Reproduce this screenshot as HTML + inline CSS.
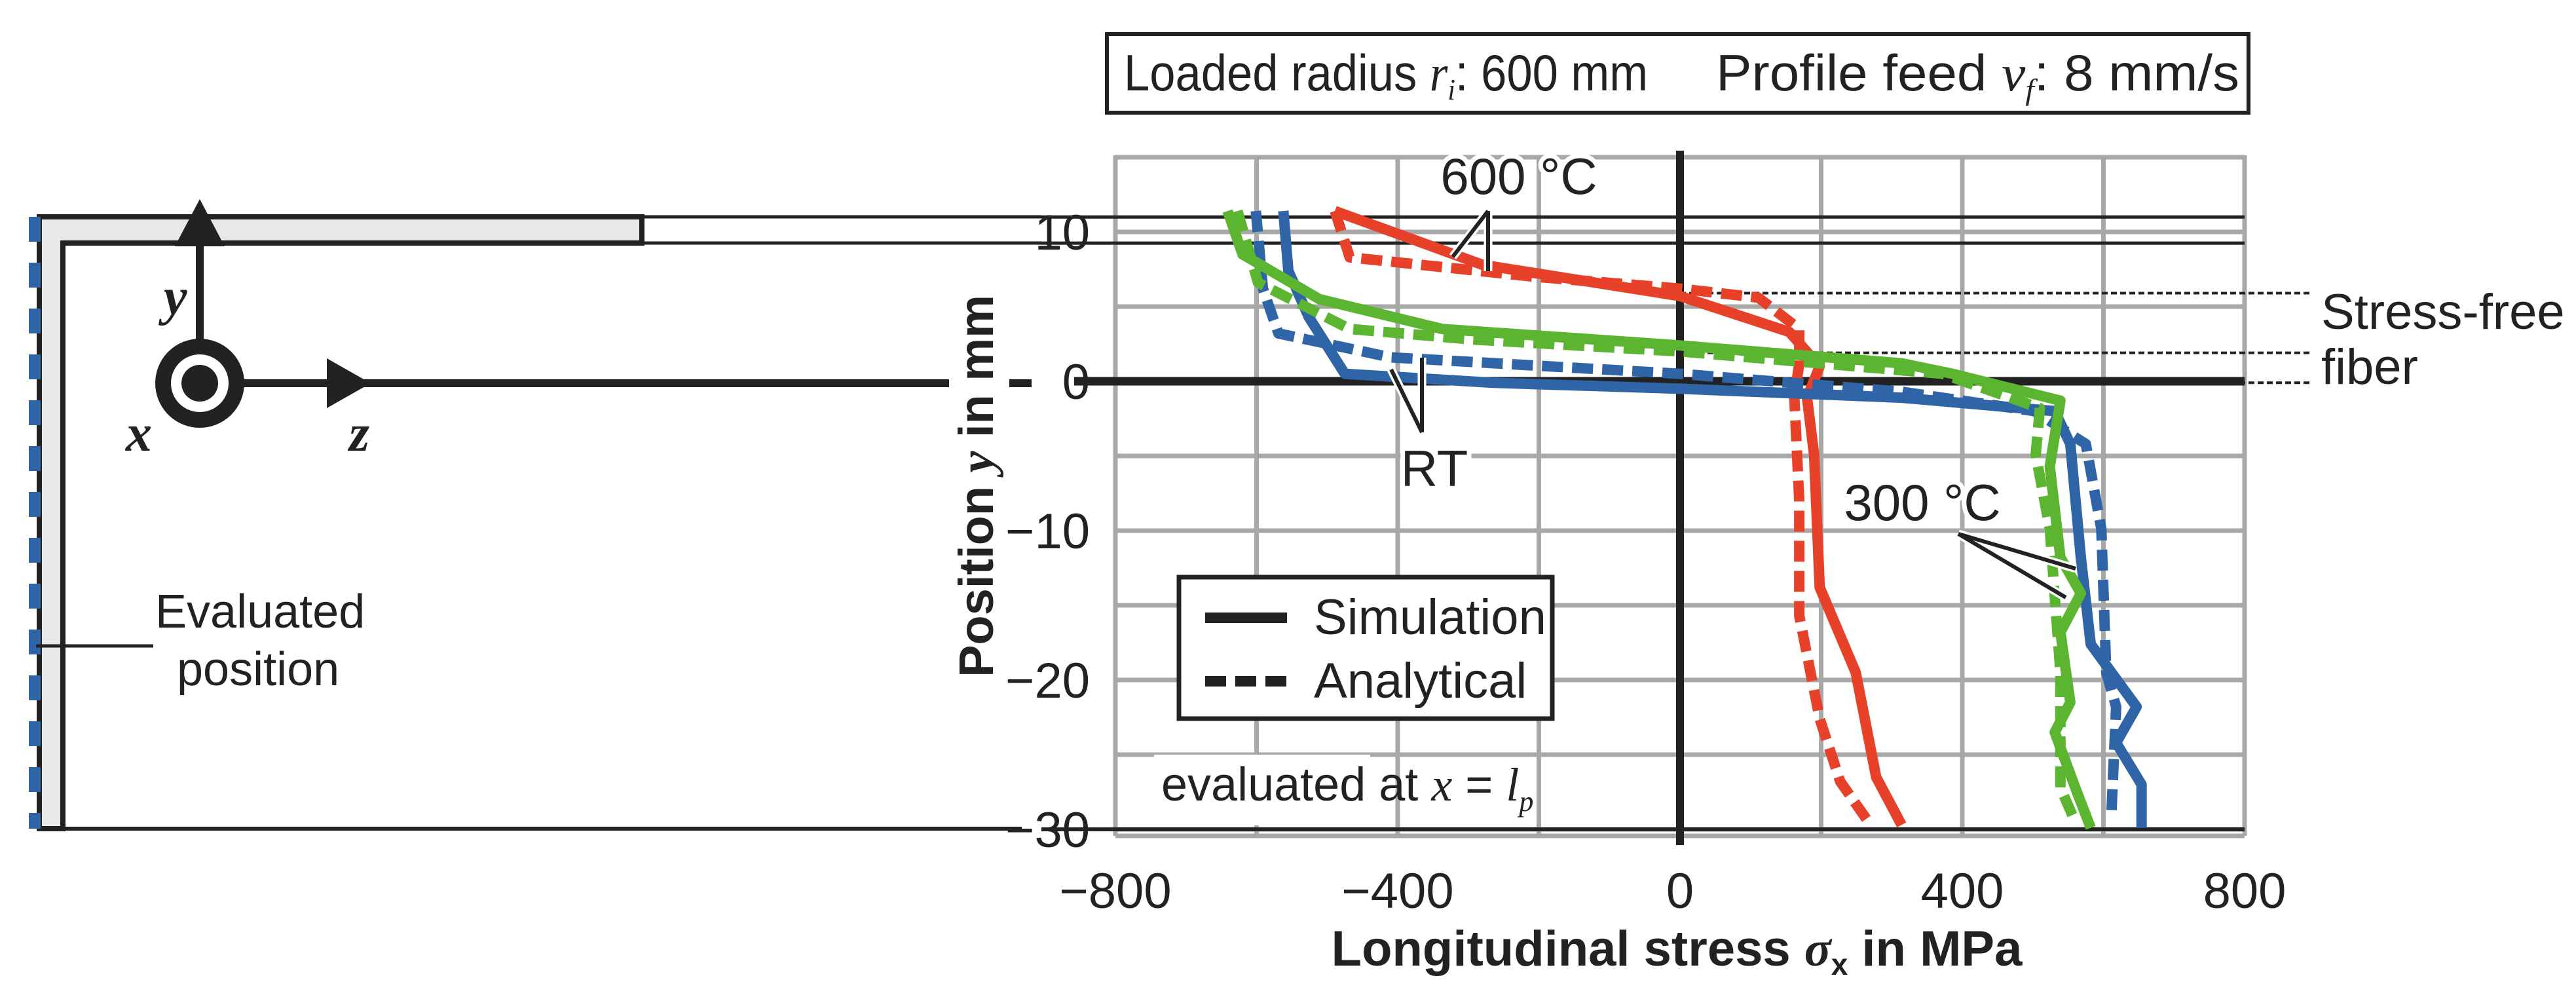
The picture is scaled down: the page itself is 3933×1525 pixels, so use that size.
<!DOCTYPE html>
<html><head><meta charset="utf-8"><style>
html,body{margin:0;padding:0;background:#fff;}
svg{display:block;}
text{font-family:"Liberation Sans Narrow","Liberation Sans",sans-serif;fill:#222;}
.it{font-family:"Liberation Serif",serif;font-style:italic;}
</style></head><body>
<svg id="fig" width="3933" height="1525" viewBox="0 0 3933 1525" xmlns="http://www.w3.org/2000/svg">
<g>
<rect x="1690" y="52" width="1743" height="120" fill="#fff" stroke="#222" stroke-width="6"/>
<text x="1716" y="138" font-size="78" textLength="800" lengthAdjust="spacingAndGlyphs">Loaded radius <tspan class="it">r</tspan><tspan class="it" font-size="46" dy="14">i</tspan><tspan dy="-14">: 600 mm</tspan></text>
<text x="2620" y="138" font-size="78" textLength="799" lengthAdjust="spacingAndGlyphs">Profile feed <tspan class="it">v</tspan><tspan class="it" font-size="46" dy="14">f</tspan><tspan dy="-14">: 8 mm/s</tspan></text>
</g>
<g>
<path d="M60 331 L980 331 L980 371 L96 371 L96 1265 L60 1265 Z" fill="#e8e8e8" stroke="#222" stroke-width="8"/>
<line x1="980" y1="331" x2="1590" y2="331" stroke="#222" stroke-width="5"/>
<line x1="980" y1="371" x2="1590" y2="371" stroke="#222" stroke-width="5"/>
<line x1="96" y1="1265" x2="1560" y2="1265" stroke="#222" stroke-width="6"/>
<line x1="53" y1="331" x2="53" y2="1265" stroke="#2f65a7" stroke-width="18" stroke-dasharray="38 32"/>
<line x1="55" y1="986" x2="234" y2="986" stroke="#222" stroke-width="5"/>
<text x="237" y="958" font-size="72">Evaluated</text>
<text x="270" y="1046" font-size="72">position</text>
<line x1="305" y1="585" x2="305" y2="345" stroke="#222" stroke-width="12"/>
<polygon points="305,304 267,376 343,376" fill="#222"/>
<line x1="305" y1="585" x2="1449" y2="585" stroke="#222" stroke-width="12"/>
<polygon points="566,585 499,547 499,623" fill="#222"/>
<circle cx="305" cy="585" r="56" fill="#fff" stroke="#222" stroke-width="24"/>
<circle cx="305" cy="585" r="28" fill="#222"/>
<text class="it" x="250" y="480" font-size="80" font-weight="bold">y</text>
<text class="it" x="192" y="688" font-size="80" font-weight="bold">x</text>
<text class="it" x="533" y="688" font-size="80" font-weight="bold">z</text>
<line x1="1541" y1="585" x2="1575" y2="585" stroke="#222" stroke-width="12"/>
</g>
<g id="chart"></g>
</svg>
<script>
const xTicks=[-800,-400,0,400,800];
const yTicks=[10,0,-10,-20,-30];
const redSimX=[-489,-280,0,155,198,180,190,198,249,278,314];
const redSimY=[11.4,7.8,5.7,3.3,1.0,-1.1,-4.9,-13.8,-19.5,-26.5,-29.7];
const redAnaX=[-489,-468,-207,0,111,169,169,162,169,169,198,227,264];
const redAnaY=[11.4,8.3,7.0,6.2,5.6,3.5,1.2,-1.1,-8,-15.7,-22.6,-26.8,-29.3];
const blueSimX=[-562,-555,-526,-475,-265,0,314,531,553,568,582,647,618,654,654];
const blueSimY=[11.4,7.4,4.3,0.5,-0.1,-0.5,-1.1,-2.0,-4.2,-11.8,-17.6,-21.8,-24.2,-27,-29.9];
const blueAnaX=[-601,-591,-569,-410,0,314,502,575,597,604,618,611];
const blueAnaY=[11.4,6.2,3.2,1.6,0.5,-0.7,-2.0,-4.2,-9.9,-19.5,-21.8,-29.2];
const greenSimX=[-641,-620,-511,-337,0,314,386,539,524,539,568,539,553,531,560,582];
const greenSimY=[11.4,8.5,5.5,3.5,2.4,1.2,0.5,-1.3,-5.7,-11.8,-14.2,-16.8,-21.5,-23.5,-27.2,-29.9];
const greenAnaX=[-627,-598,-468,-294,0,372,510,504,524,539,539,560];
const greenAnaY=[11.4,6.6,3.5,2.8,2.0,0.5,-1.8,-4.9,-9.9,-19.5,-27.2,-29.5];
const fiberY=[5.9,1.9,-0.1];

const NS='http://www.w3.org/2000/svg';
const g=document.getElementById('chart');
const X0=1703,X1=3427,Y0=582,PY=22.8;
const sx=v=>X0+(v+800)/1600*(X1-X0);
const sy=v=>Y0-v*PY;
function mk(tag,at,parent){const e=document.createElementNS(NS,tag);for(const k in at)e.setAttribute(k,at[k]);(parent||g).appendChild(e);return e;}

for(let v=-800;v<=800;v+=200){const l=mk('line',{x1:sx(v),y1:237,x2:sx(v),y2:1276,stroke:'#a8a8a8','stroke-width':7});

}
for(let v=15;v>=-30;v-=5){const l=mk('line',{x1:X0,y1:sy(v),x2:X1,y2:sy(v),stroke:'#a8a8a8','stroke-width':7});

}
mk('line',{x1:X0,y1:1276,x2:X1,y2:1276,stroke:'#a8a8a8','stroke-width':7});
[[11.0,5],[9.25,5],[-30,6]].forEach(([v,w])=>{const l=mk('line',{x1:1590,y1:sy(v),x2:X1,y2:sy(v),stroke:'#222','stroke-width':w});

});
const zl=mk('line',{x1:1640,y1:sy(0),x2:X1,y2:sy(0),stroke:'#222','stroke-width':13});


fiberY.forEach(v=>{const l=mk('line',{x1:sx(0),y1:sy(v),x2:3530,y2:sy(v),stroke:'#222','stroke-width':4,'stroke-dasharray':'9 5'});

});
const vl=mk('line',{x1:sx(0),y1:230,x2:sx(0),y2:1290,stroke:'#222','stroke-width':12});



xTicks.forEach(v=>{const t=mk('text',{x:sx(v),y:1386,'font-size':76,'text-anchor':'middle'});t.textContent=(v<0?'\u2212':'')+Math.abs(v);

});
yTicks.forEach(v=>{const t=mk('text',{x:1664,y:sy(v)+27,'font-size':76,'text-anchor':'end'});t.textContent=(v<0?'\u2212':'')+Math.abs(v);

});

function series(xs,ys,color,dash,name){const d=xs.map((v,i)=>(i?'L':'M')+sx(v).toFixed(1)+' '+sy(ys[i]).toFixed(1)).join(' ');
const p=mk('path',{d:d,fill:'none',stroke:color,'stroke-width':16,'stroke-linejoin':'round'});
if(dash)p.setAttribute('stroke-dasharray','32 14');

}
series(redAnaX,redAnaY,'#e8412a',true,'series-600c-analytical');
series(redSimX,redSimY,'#e8412a',false,'series-600c-simulation');
series(blueAnaX,blueAnaY,'#2f65a7',true,'series-rt-analytical');
series(blueSimX,blueSimY,'#2f65a7',false,'series-rt-simulation');
series(greenAnaX,greenAnaY,'#5cb531',true,'series-300c-analytical');
series(greenSimX,greenSimY,'#5cb531',false,'series-300c-simulation');

function ann(label,x,y,lines,name){lines.forEach(([a,b,c,d])=>mk('line',{x1:a,y1:b,x2:c,y2:d,stroke:'#fff','stroke-width':13}));
lines.forEach(([a,b,c,d])=>mk('line',{x1:a,y1:b,x2:c,y2:d,stroke:'#222','stroke-width':6}));
const t=mk('text',{x:x,y:y,'font-size':78,'text-anchor':'middle',stroke:'#fff','stroke-width':14,'paint-order':'stroke'});t.textContent=label;

}
ann('600 °C',2319,296,[[2272,322,2218,392],[2272,322,2272,414]],'label-600c');
ann('RT',2190,742,[[2171,660,2124,564],[2171,660,2171,546]],'label-rt');
ann('300 °C',2935,794,[[2990,815,3169,868],[2990,815,3154,912]],'label-300c');
let t=mk('text',{x:3544,y:502,'font-size':76});t.textContent='Stress-free';


t=mk('text',{x:3544,y:586,'font-size':76});t.textContent='fiber';

const lg=mk('g',{});


mk('rect',{x:1800,y:881,width:570,height:216,fill:'#fff',stroke:'#222','stroke-width':7},lg);
mk('line',{x1:1840,y1:943,x2:1965,y2:943,stroke:'#222','stroke-width':16},lg);
mk('line',{x1:1840,y1:1040,x2:1965,y2:1040,stroke:'#222','stroke-width':16,'stroke-dasharray':'32 14'},lg);
t=mk('text',{x:2006,y:968,'font-size':76},lg);t.textContent='Simulation';


t=mk('text',{x:2006,y:1065,'font-size':76},lg);t.textContent='Analytical';



mk('rect',{x:1762,y:1152,width:330,height:108,fill:'#fff'});
t=mk('text',{x:1773,y:1222,'font-size':72});


t.innerHTML='evaluated at <tspan class="it">x</tspan> = <tspan class="it">l</tspan><tspan class="it" font-size="44" dy="16">p</tspan>';

t=mk('text',{x:2560,y:1474,'font-size':76,'font-weight':'bold','text-anchor':'middle'});


t.innerHTML='Longitudinal stress <tspan class="it">σ</tspan><tspan font-size="46" dy="14">x</tspan><tspan dy="-14"> in MPa</tspan>';
t=mk('text',{x:0,y:0,'font-size':74,'font-weight':'bold','text-anchor':'middle',transform:'translate(1516,742) rotate(-90)',style:'font-family:"Liberation Sans",sans-serif'});


t.innerHTML='Position <tspan class="it">y</tspan> in mm';
</script>
</body></html>
